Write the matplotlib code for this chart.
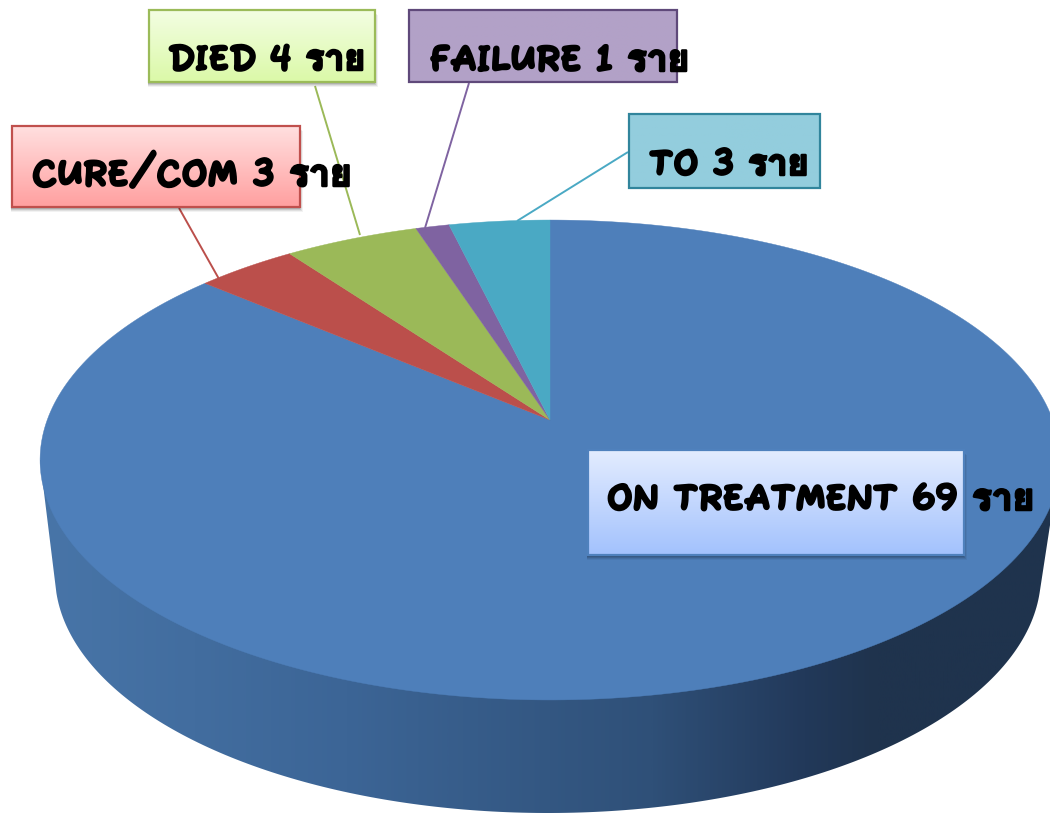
import numpy as np
import matplotlib
matplotlib.use('Agg')
import matplotlib.pyplot as plt
import matplotlib.patheffects as pe
from matplotlib.colors import LinearSegmentedColormap
from matplotlib.patches import Polygon, Rectangle

labels = ['ON TREATMENT 69 ราย', 'CURE/COM 3 ราย', 'DIED 4 ราย', 'FAILURE 1 ราย', 'TO 3 ราย']
values = [69, 3, 4, 1, 3]
colors = ['#4e7fba', '#bb4f4b', '#9bb958', '#7f63a1', '#4aa9c4']

# label box: left, top, right, bottom, border, gradient top, gradient bottom
boxes = [(588, 450, 964, 555, '#4f81bd', '#e3ecff', '#a3c2fd'),
         (12, 126, 300, 207, '#c0504d', '#ffdfdf', '#ffa0a0'),
         (149, 10, 375, 82, '#9bbb59', '#f3fee2', '#dbf9a8'),
         (409, 10, 677, 82, '#5f497a', '#b2a1c7', '#b2a1c7'),
         (629, 114, 820, 188, '#31859c', '#93cddd', '#93cddd')]
text_pos = [(607, 510), (32, 186), (168, 70), (430, 71), (649, 175)]
text_size = [26.6, 26.8, 25.6, 26.6, 25.9]
leaders = [None,
           ((179, 208), (219, 279)),
           ((315, 86), (360, 235)),
           ((469, 83), (425, 228)),
           ((628, 152), (517, 221))]

plt.rcParams['font.family'] = ['Fuzzy Bubbles', 'Loma', 'Mali', 'DejaVu Sans']

fig = plt.figure(figsize=(10.5, 8.15), dpi=100)
ax = fig.add_axes([0, 0, 1, 1])


def project(t):
    # tilted circle seen in perspective, the centre lands at (550, 420)
    d = 1 + np.cos(t) / 6
    return 550 + 502.8 * np.sin(t) / d, 420 - 233.3 * np.cos(t) / d


# side wall
a0 = np.arcsin(18 / 238)
a = np.linspace(a0, np.pi - a0, 200)
wall_x = np.concatenate([[40], 548 - 493 * np.cos(a), [1060]])
wall_y = np.concatenate([[460], 575 + 238 * np.sin(a), [460]])
wall = Polygon(np.column_stack([wall_x, wall_y]), closed=True, transform=ax.transData, fc='none', ec='none')
ax.add_patch(wall)
wall_cmap = LinearSegmentedColormap.from_list('wall', [(0, '#4875a8'), (0.3, '#3c6596'), (0.6, '#2f5078'),
                                                       (0.75, '#22395a'), (0.82, '#1f334d'), (1, '#1f334d')])
im = ax.imshow(np.linspace(0, 1, 512).reshape(1, -1), cmap=wall_cmap, extent=(40, 1060, 830, 440), aspect='auto')
im.set_clip_path(wall)

# top of the pie, one slice per value
edges = np.concatenate([[0], np.cumsum(values)]) / np.sum(values) * 2 * np.pi
for i in range(len(values)):
    t = np.linspace(edges[i], edges[i + 1], 300)
    x, y = project(t)
    ax.fill(np.concatenate([[550], x]), np.concatenate([[420], y]), color=colors[i], lw=0.3, zorder=2)

for i in range(len(labels)):
    x0, y0, x1, y1, border, c_top, c_bottom = boxes[i]
    if leaders[i] is not None:
        (ax_, ay_), (bx_, by_) = leaders[i]
        ax.plot([ax_, bx_], [ay_, by_], color=colors[i], lw=1.4, zorder=3, solid_capstyle='butt')
    # soft shadow under the box
    if i < 3:
        for off, alpha in [(5, 0.05), (4, 0.08), (3, 0.1), (2, 0.12)]:
            ax.add_patch(Rectangle((x0 - 1, y0 + off), x1 - x0 + off - 1, y1 - y0, fc='k', ec='none', alpha=alpha, zorder=4))
    cm = LinearSegmentedColormap.from_list('b%d' % i, [c_top, c_bottom])
    ax.imshow(np.linspace(0, 1, 64).reshape(-1, 1), cmap=cm, extent=(x0, x1, y1, y0), aspect='auto', zorder=5)
    ax.add_patch(Rectangle((x0, y0), x1 - x0, y1 - y0, fc='none', ec=border, lw=1.6, zorder=6))
    ax.text(text_pos[i][0], text_pos[i][1], labels[i], fontsize=text_size[i], fontweight='bold', color='k',
            ha='left', va='baseline', zorder=7,
            path_effects=[pe.withStroke(linewidth=1.8, foreground='k'), pe.Normal()])

ax.set_xlim(0, 1050)
ax.set_ylim(815, 0)
ax.axis('off')
fig.savefig('out.png', dpi=100)
